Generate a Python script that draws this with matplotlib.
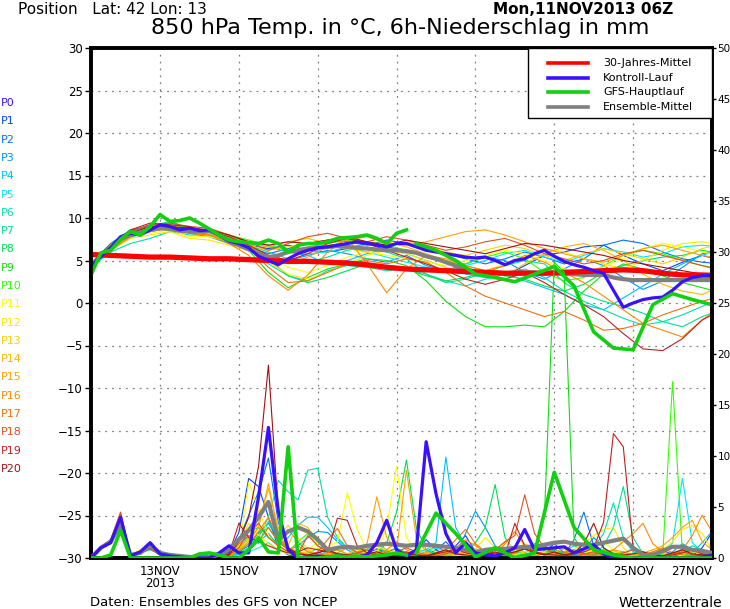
import numpy as np
import matplotlib
matplotlib.use("Agg")
import matplotlib.pyplot as plt
from matplotlib.patches import Rectangle
from matplotlib.lines import Line2D

# time axis: hours since Mon 11NOV2013 06Z
hours_6h = np.arange(64) * 6
hours_12h = np.arange(33) * 12
hours_gfs_hr = np.arange(33) * 6            # 6h steps up to 19NOV 06Z
hours_gfs_lr = 198 + np.arange(16) * 12     # 12h steps 19NOV 12Z .. 27NOV 00Z

date_ticks = [42, 90, 138, 186, 234, 282, 330, 378]
date_labels = ["13NOV\n2013", "15NOV", "17NOV", "19NOV", "21NOV", "23NOV", "25NOV", "27NOV"]

member_names = ["P%d" % i for i in range(21)]
member_colors = ["#3a10ff", "#0048ff", "#0070ff", "#0094ff", "#00c0ff", "#00e8ff",
                 "#00e0b0", "#00e090", "#00e050", "#10e010", "#30ff00", "#ffff00",
                 "#ffe800", "#ffd000", "#ffb800", "#ffa000", "#ff8800", "#f07010",
                 "#e05020", "#c02020", "#a01010"]

# 30-year mean temperature (12h)
clim_temp = [5.7, 5.6, 5.5, 5.4, 5.4, 5.3, 5.2, 5.2, 5.1, 5.0, 4.9,
             4.9, 4.8, 4.7, 4.5, 4.2, 4.0, 3.9, 3.8, 3.7, 3.6, 3.5,
             3.5, 3.5, 3.6, 3.7, 3.8, 3.9, 3.8, 3.5, 3.3, 3.3, 3.2]

# control run (P0), 6h
ctrl_temp = [4.3, 5.5, 6.5, 7.8, 8.2, 8.0, 8.6, 9.2,
             9.0, 8.6, 8.8, 8.5, 8.6, 8.0, 7.3, 7.0,
             6.5, 5.5, 5.0, 4.5, 5.2, 5.8, 6.2, 6.5,
             6.6, 6.8, 7.0, 7.2, 7.0, 6.8, 6.6, 7.0,
             7.0, 6.6, 6.2, 6.0, 5.8, 5.6, 5.4, 5.3,
             5.4, 5.0, 4.5, 5.0, 5.2, 5.8, 6.2, 5.5,
             4.9, 4.5, 4.2, 3.8, 3.5, 1.5, -0.5, 0.0,
             0.4, 0.6, 0.7, 1.5, 2.5, 3.0, 3.2, 3.3]
ctrl_prec = [0, 1.0, 1.5, 4.0, 0.2, 0.6, 1.5, 0.4,
             0.2, 0.1, 0, 0, 0, 0.5, 1.2, 0.5,
             0.5, 6.0, 12.8, 4.6, 0.8, 0, 0.1, 0.2,
             0.1, 0.2, 0.1, 0.1, 0.3, 1.5, 3.7, 0.8,
             0.2, 0.8, 11.4, 6.3, 2.4, 0.5, 1.5, 0.5,
             0.3, 0.2, 0.5, 1.0, 2.8, 0.8, 0.9, 1.0,
             1.1, 0.5, 0.9, 1.3, 0.4, 0, 0, 0,
             0, 0, 0, 0, 0, 0, 0.1, 0.3]

# GFS main run: high resolution part (6h) and low resolution part (12h)
gfs_temp_hr = [3.3, 5.9, 6.2, 7.5, 8.4, 8.0, 9.0, 10.4,
               9.6, 9.7, 10.0, 9.4, 8.7, 8.0, 7.4, 7.2,
               7.1, 7.0, 7.4, 7.0, 6.0, 6.8, 7.0, 7.0,
               7.2, 7.6, 7.7, 7.8, 8.0, 7.6, 7.0, 8.2, 8.6]
gfs_prec_hr = [0, 0, 0.3, 2.7, 0, 0, 0, 0,
               0, 0, 0, 0.4, 0.5, 0.3, 0, 0,
               0.8, 2.0, 0.6, 0.5, 10.9, 0, 0, 0,
               0.1, 0.2, 0.1, 0.2, 0.1, 0.2, 0.3, 0.5, 0.3]
gfs_temp_lr = [7.0, 6.2, 5.0, 3.4, 3.0, 2.5, 3.4, 4.3,
               2.0, -3.4, -5.3, -5.5, -0.2, 1.1, 0.4, -0.2]
gfs_prec_lr = [0.5, 4.4, 2.4, 0.1, 1.0, 0.0, 0.5, 8.4,
               3.0, 0.8, 0.3, 0.0, 0.0, 0.0, 0.0, 0.0]

# ensemble mean, 6h
mean_temp = [4.5, 5.5, 6.5, 7.5, 8.0, 8.3, 8.6, 8.8,
             8.7, 8.5, 8.4, 8.4, 8.5, 8.0, 7.2, 6.8,
             6.3, 5.8, 5.4, 5.6, 6.0, 6.2, 6.4, 6.5,
             6.6, 6.7, 6.6, 6.5, 6.4, 6.3, 6.2, 6.2,
             6.1, 5.9, 5.5, 5.2, 4.8, 4.4, 4.0, 3.7,
             3.6, 3.6, 3.5, 3.6, 3.6, 3.6, 3.5, 3.5,
             3.4, 3.4, 3.3, 3.3, 3.3, 3.0, 2.8, 2.7,
             2.7, 2.7, 2.7, 2.7, 2.7, 2.7, 2.7, 2.7]
mean_prec = [0, 1.0, 1.6, 3.3, 0.3, 0.5, 1.2, 0.5,
             0.3, 0.2, 0.1, 0.1, 0.1, 0.3, 0.9, 1.8,
             2.7, 4.0, 5.5, 1.8, 2.6, 3.0, 2.6, 1.8,
             0.8, 1.0, 1.1, 1.0, 1.2, 1.3, 1.4, 1.3,
             1.2, 1.3, 1.3, 1.2, 1.1, 1.0, 0.8, 0.5,
             0.8, 0.9, 0.9, 1.0, 1.1, 1.1, 1.3, 1.5,
             1.6, 1.4, 1.3, 1.3, 1.5, 1.7, 1.9, 1.0,
             0.3, 0.3, 0.7, 1.1, 1.1, 0.8, 0.7, 0.5]

# perturbed members P1..P20: temperature (12h)
member_temp = [
    [4.4, 6.6, 8.4, 9.2, 9.0, 8.7, 8.2, 7.4, 6.8, 6.4, 6.8,
     6.2, 6.0, 6.4, 7.0, 6.6, 6.2, 5.6, 4.8, 4.0, 3.6, 3.2,
     4.4, 5.6, 6.0, 6.6, 6.8, 5.6, 4.6, 3.8, 4.8, 5.6, 5.0],
    [4.7, 7.0, 8.6, 9.0, 8.8, 8.8, 8.0, 7.2, 6.6, 5.8, 6.4,
     7.0, 7.4, 7.2, 6.8, 7.4, 7.0, 6.4, 5.8, 5.2, 4.6, 5.2,
     6.0, 5.4, 4.6, 5.2, 6.8, 7.4, 7.0, 6.0, 5.2, 4.8, 4.6],
    [4.5, 6.6, 8.0, 8.6, 9.2, 8.2, 7.8, 7.0, 6.4, 5.6, 5.0,
     5.6, 6.2, 5.8, 5.2, 4.8, 5.6, 4.4, 3.8, 4.6, 5.4, 5.0,
     3.6, 2.8, 4.0, 5.2, 4.4, 3.0, 1.6, 2.6, 4.2, 5.8, 6.2],
    [4.6, 6.4, 7.8, 8.4, 9.0, 8.4, 8.2, 7.6, 7.0, 6.6, 6.0,
     5.6, 4.6, 5.0, 5.8, 6.4, 5.8, 5.0, 4.2, 3.4, 3.0, 3.6,
     2.6, 1.8, 1.0, -0.2, -0.8, 0.6, 2.0, 3.4, 4.6, 5.6, 6.4],
    [4.3, 6.2, 7.6, 8.8, 9.4, 8.8, 8.6, 7.8, 7.2, 6.8, 6.2,
     5.8, 6.0, 6.6, 6.0, 5.4, 4.8, 4.2, 3.6, 4.4, 5.0, 5.8,
     6.2, 5.4, 4.8, 5.6, 6.4, 6.0, 5.4, 5.8, 6.6, 6.8, 6.6],
    [4.2, 6.0, 7.0, 7.6, 8.4, 8.0, 8.0, 7.4, 6.8, 4.6, 3.2,
     2.6, 3.8, 4.4, 4.2, 3.8, 4.0, 3.4, 2.6, 2.0, 2.8, 3.4,
     4.0, 3.0, 1.4, 0.2, -0.8, -1.8, -2.6, -2.2, -1.4, -0.4, 0.6],
    [4.5, 6.4, 8.0, 8.4, 8.8, 8.4, 8.4, 7.6, 6.8, 6.0, 5.2,
     4.8, 5.4, 6.2, 6.6, 6.0, 5.2, 3.4, 2.4, 2.8, 3.6, 4.4,
     5.0, 4.6, 2.4, 1.0, 0.2, -0.4, -1.2, -2.2, -2.8, -1.6, -0.8],
    [4.4, 6.6, 8.2, 9.0, 9.6, 8.8, 8.4, 7.8, 7.2, 5.2, 3.2,
     2.4, 3.0, 3.8, 4.6, 4.4, 4.0, 3.2, 2.6, 3.0, 3.6, 3.2,
     2.8, 2.0, 1.4, 2.2, 3.6, 4.4, 5.0, 5.4, 5.6, 6.2, 5.8],
    [4.6, 6.8, 8.4, 8.8, 9.0, 8.6, 8.0, 7.2, 6.2, 3.6, 1.8,
     3.0, 4.0, 4.6, 5.2, 5.0, 4.4, 2.6, 0.2, -1.6, -2.8, -2.8,
     -2.6, -2.8, -1.0, 1.4, 3.4, 4.6, 4.0, 3.2, 2.4, 1.8, 1.2],
    [4.5, 6.6, 8.2, 9.0, 9.2, 8.8, 8.6, 8.0, 7.4, 6.8, 6.2,
     6.6, 7.0, 7.4, 7.2, 6.8, 6.2, 5.6, 4.8, 4.6, 5.4, 6.0,
     5.2, 3.6, 2.6, 3.0, 4.4, 5.6, 6.2, 5.8, 5.0, 4.4, 4.0],
    [4.5, 6.4, 8.0, 8.2, 8.6, 7.8, 7.8, 7.2, 6.4, 5.4, 4.2,
     3.6, 4.4, 5.4, 6.0, 5.6, 5.2, 4.8, 4.4, 5.0, 5.6, 6.2,
     5.8, 5.0, 4.0, 3.6, 4.2, 5.2, 6.4, 7.0, 6.6, 6.0, 5.6],
    [4.4, 6.2, 7.6, 8.0, 8.4, 7.6, 7.4, 6.8, 6.2, 4.8, 3.4,
     2.8, 3.6, 4.6, 5.6, 6.2, 5.8, 5.0, 4.2, 3.6, 3.8, 4.6,
     5.4, 6.4, 6.0, 5.2, 4.6, 4.0, 5.0, 6.2, 7.0, 7.2, 6.8],
    [4.6, 6.8, 8.2, 8.8, 9.0, 8.6, 8.2, 7.4, 6.8, 6.2, 6.6,
     7.0, 6.8, 6.4, 6.0, 6.8, 7.2, 6.6, 6.0, 5.6, 6.2, 6.8,
     6.4, 5.6, 5.0, 5.8, 6.4, 5.8, 5.2, 4.6, 5.4, 6.4, 7.0],
    [4.5, 6.6, 8.0, 8.6, 9.2, 8.4, 8.6, 7.8, 7.0, 6.6, 7.2,
     7.6, 7.0, 6.6, 6.8, 7.2, 6.6, 5.8, 5.0, 4.4, 3.8, 3.2,
     4.6, 5.8, 6.6, 7.0, 6.2, 5.0, 3.4, 2.2, 1.4, 1.0, 2.0],
    [4.4, 6.4, 7.8, 8.6, 9.0, 8.2, 8.0, 7.4, 6.6, 5.6, 4.6,
     5.4, 6.6, 7.4, 7.8, 7.0, 6.8, 7.2, 7.8, 8.4, 8.6, 8.0,
     7.2, 6.4, 5.8, 5.2, 4.8, 5.6, 6.4, 6.8, 6.2, 5.6, 5.2],
    [4.3, 6.2, 7.8, 8.4, 8.8, 8.2, 8.0, 7.0, 5.6, 3.2, 1.5,
     3.3, 6.0, 7.6, 4.6, 1.2, 4.0, 5.6, 5.2, 4.4, 3.8, 4.4,
     5.6, 4.8, 3.6, 2.4, 0.8, -0.8, -2.4, -3.2, -4.0, -2.0, -0.4],
    [4.5, 6.6, 8.2, 8.6, 9.0, 8.6, 8.4, 7.6, 6.4, 4.2, 2.4,
     2.6, 3.6, 4.6, 5.0, 4.6, 5.2, 4.8, 3.6, 2.0, 0.8, 0.0,
     -0.8, -1.6, -1.0, -2.0, -3.2, -3.0, -2.4, -1.4, -0.6, 0.2, 0.8],
    [4.6, 6.8, 8.4, 9.2, 9.4, 9.0, 8.8, 8.0, 7.2, 6.2, 7.0,
     7.8, 8.2, 7.6, 7.2, 7.8, 7.4, 6.8, 6.2, 6.6, 7.2, 7.6,
     6.8, 5.8, 5.2, 4.6, 5.0, 5.8, 6.2, 5.6, 5.0, 4.4, 3.8],
    [4.5, 6.6, 8.6, 9.4, 9.2, 9.0, 8.4, 7.8, 6.8, 5.6, 5.0,
     5.8, 7.0, 7.6, 7.0, 6.2, 5.4, 4.6, 3.8, 2.8, 2.2, 2.8,
     3.6, 2.4, 1.0, -0.2, -1.6, -3.6, -5.4, -5.6, -4.2, -2.0, -0.8],
    [4.4, 6.4, 8.2, 9.0, 9.0, 8.8, 8.6, 8.0, 7.2, 6.8, 7.2,
     7.0, 7.4, 7.8, 7.2, 6.8, 7.4, 7.0, 6.6, 6.2, 5.8, 6.4,
     7.0, 6.8, 6.4, 6.0, 5.6, 5.0, 4.6, 4.2, 3.8, 3.4, 3.0],
]

# perturbed members P1..P20: 6h precipitation
member_prec = [
    [0, 1.1, 1.5, 4.2, 0.3, 0.5, 1.0, 0.3, 0.2, 0.2, 0.1, 0, 0, 0, 0.5, 2.5,
     7.8, 7.0, 4.0, 1.0, 0.3, 0.1, 0.2, 0.5, 0.8, 0.4, 0.2, 0.1, 0.4, 0.9, 0.5, 0.2,
     0.3, 0.6, 1.8, 0.8, 0.3, 1.2, 2.2, 0.6, 0.2, 0.1, 0.5, 0.9, 0.3, 0.2, 0.6, 1.4,
     0.5, 0.2, 0.1, 0.3, 0.8, 0.3, 0.1, 0, 0.2, 0.4, 0.8, 0.3, 0.1, 0.2, 1.0, 2.5],
    [0, 1.0, 1.6, 4.0, 0.2, 0.6, 1.3, 0.4, 0.3, 0.2, 0, 0, 0, 0.1, 0.6, 1.8,
     4.2, 6.5, 9.8, 3.5, 1.0, 0.4, 0.2, 0.3, 0.6, 0.3, 0.2, 0.4, 0.2, 0.1, 0.3, 0.6,
     0.2, 0.1, 0.3, 0.8, 1.6, 0.5, 0.2, 0.1, 0.3, 0.8, 0.4, 0.2, 0.1, 0.5, 1.2, 0.6,
     0.3, 1.8, 4.5, 1.2, 0.3, 0.1, 0, 0.2, 0.5, 0.3, 0.1, 0.2, 0.6, 0.4, 0.2, 0.1],
    [0, 0.9, 1.5, 3.6, 0.2, 0.6, 1.1, 0.5, 0.3, 0.2, 0.1, 0, 0, 0, 0.2, 0.6,
     1.2, 2.5, 3.4, 1.8, 0.8, 1.2, 2.0, 2.6, 2.5, 1.6, 0.8, 0.3, 0.2, 0.5, 0.8, 0.4,
     0.2, 0.3, 0.6, 1.2, 0.6, 0.3, 2.4, 4.6, 3.0, 1.2, 0.4, 0.2, 0.1, 0.3, 0.6, 0.9,
     0.4, 0.2, 0.8, 2.0, 1.0, 0.3, 0.1, 0, 0.1, 0.3, 0.2, 0.6, 1.4, 0.8, 0.3, 0.2],
    [0, 1.0, 1.8, 4.3, 0.3, 0.5, 0.9, 0.3, 0.2, 0.1, 0, 0, 0, 0, 0.1, 0.4,
     0.8, 1.6, 2.4, 1.2, 2.0, 3.2, 4.0, 4.0, 3.0, 1.8, 1.0, 0.6, 0.9, 1.4, 0.8, 0.4,
     0.3, 0.6, 0.8, 1.5, 9.9, 3.0, 1.2, 0.6, 0.8, 0.4, 0.2, 0.5, 1.2, 0.6, 0.3, 0.2,
     0.4, 0.8, 0.3, 0.2, 0.1, 0, 0.2, 0.5, 0.3, 0.1, 0.2, 0.4, 0.9, 0.5, 1.5, 2.6],
    [0, 1.1, 1.7, 4.0, 0.2, 0.5, 1.0, 0.6, 0.4, 0.3, 0.1, 0, 0, 0, 0.1, 0.3,
     0.6, 1.0, 1.5, 0.8, 0.4, 0.2, 0.5, 0.9, 0.5, 0.3, 0.2, 0.1, 0.3, 0.6, 0.4, 0.2,
     0.1, 0.2, 0.5, 1.0, 0.6, 0.3, 0.2, 0.4, 0.8, 0.4, 0.2, 0.3, 0.6, 1.0, 0.5, 0.2,
     0.1, 0.3, 0.7, 0.4, 0.2, 0.1, 0.4, 1.0, 0.6, 0.3, 0.4, 1.5, 7.8, 1.5, 0.6, 0.3],
    [0, 0.9, 1.4, 3.4, 0.2, 0.5, 0.8, 0.4, 0.3, 0.2, 0.1, 0, 0, 0, 0.2, 0.5,
     1.0, 2.0, 4.0, 7.6, 6.5, 5.7, 8.6, 8.8, 4.0, 2.0, 1.0, 0.5, 0.3, 0.2, 0.6, 1.0,
     0.5, 0.3, 0.2, 0.4, 0.8, 0.4, 0.2, 0.1, 0.3, 0.6, 0.4, 0.2, 0.5, 1.0, 0.8, 0.4,
     0.6, 1.2, 0.8, 1.0, 2.4, 5.4, 2.0, 0.6, 0.3, 0.2, 0.1, 0.3, 0.6, 0.4, 0.8, 0.5],
    [0, 1.0, 1.6, 3.8, 0.3, 0.6, 1.0, 0.5, 0.2, 0.1, 0, 0, 0, 0, 0.3, 0.9,
     2.2, 1.4, 3.6, 2.0, 1.0, 0.6, 0.3, 0.2, 0.5, 0.8, 0.4, 0.2, 0.1, 0.3, 0.5, 0.3,
     0.2, 0.1, 0.4, 0.6, 0.3, 0.2, 0.5, 0.9, 0.6, 0.3, 0.2, 0.4, 0.9, 1.4, 0.7, 0.3,
     0.5, 0.8, 0.4, 0.3, 1.2, 3.0, 7.0, 2.0, 0.4, 0.2, 0.1, 0.3, 0.6, 1.2, 0.8, 0.3],
    [0, 1.0, 1.5, 3.9, 0.2, 0.6, 1.2, 0.4, 0.3, 0.1, 0, 0, 0, 0, 0.3, 1.2,
     2.6, 3.0, 2.2, 1.4, 2.8, 1.6, 0.6, 0.3, 0.4, 0.2, 0.3, 0.6, 0.9, 0.4, 1.5, 4.5,
     9.6, 3.0, 0.8, 0.4, 0.2, 0.3, 0.6, 1.5, 3.0, 7.2, 2.0, 0.6, 0.3, 0.2, 0.4, 0.8,
     0.5, 0.3, 0.2, 0.4, 0.8, 0.5, 0.3, 0.1, 0.2, 0.4, 0.3, 0.2, 0.5, 0.9, 0.4, 0.2],
    [0, 1.0, 1.6, 3.7, 0.2, 0.5, 0.9, 0.4, 0.2, 0.1, 0, 0, 0, 0, 0.2, 0.6,
     1.4, 2.4, 3.0, 1.6, 0.8, 0.4, 0.3, 0.2, 0.3, 0.5, 0.3, 0.2, 0.4, 0.6, 0.3, 0.2,
     0.4, 0.3, 0.2, 0.5, 0.3, 0.2, 0.4, 0.6, 0.3, 0.5, 0.4, 0.6, 1.0, 0.8, 4.0, 29.0,
     28.0, 2.0, 0.5, 0.3, 0.2, 0.4, 0.6, 0.3, 0.2, 0.1, 0.3, 0.5, 0.4, 0.2, 0.3, 0.2],
    [0, 1.1, 1.7, 4.1, 0.3, 0.6, 1.1, 0.4, 0.2, 0.1, 0, 0, 0, 0, 0.3, 1.0,
     1.8, 3.0, 2.0, 1.2, 0.6, 1.6, 2.4, 1.2, 0.6, 0.3, 0.2, 0.4, 0.8, 1.2, 0.6, 0.3,
     0.5, 0.3, 0.2, 0.3, 0.5, 0.3, 0.2, 0.4, 0.2, 0.4, 0.8, 0.5, 0.3, 0.6, 1.0, 0.6,
     0.4, 0.2, 0.3, 0.6, 0.8, 0.4, 0.2, 0.1, 0.3, 0.5, 0.2, 17.3, 0.4, 0.2, 0.1, 0.3],
    [0, 1.0, 1.6, 3.8, 0.3, 0.8, 1.6, 0.6, 0.3, 0.2, 0.1, 0, 0, 0, 0.2, 0.8,
     7.4, 4.8, 2.2, 1.0, 0.5, 0.3, 0.8, 1.6, 1.0, 1.6, 6.4, 2.8, 0.8, 0.5, 3.0, 9.0,
     2.0, 0.6, 0.3, 0.2, 0.5, 0.9, 0.4, 0.3, 0.3, 0.6, 1.6, 0.9, 0.4, 0.3, 0.6, 1.2,
     0.8, 0.5, 0.4, 0.9, 1.6, 0.8, 0.3, 0.2, 0.4, 0.2, 0.1, 0.3, 0.6, 0.4, 0.2, 0.1],
    [0, 0.9, 1.5, 3.6, 0.2, 0.7, 1.4, 0.5, 0.3, 0.1, 0, 0, 0, 0, 0.2, 1.2,
     3.4, 2.2, 1.4, 0.8, 0.4, 0.3, 0.6, 1.0, 0.5, 0.3, 0.2, 0.3, 0.6, 1.2, 0.8, 0.4,
     0.3, 0.6, 1.2, 0.6, 0.3, 0.2, 0.4, 0.9, 2.0, 1.0, 0.4, 0.3, 0.6, 0.9, 0.5, 0.3,
     0.4, 0.8, 1.4, 2.2, 2.8, 3.0, 1.0, 0.3, 0.2, 0.4, 0.8, 1.6, 2.8, 3.2, 2.4, 0.8],
    [0, 1.0, 1.6, 3.9, 0.2, 0.6, 1.2, 0.4, 0.2, 0.1, 0, 0, 0, 0, 0.3, 0.9,
     1.8, 4.6, 5.2, 2.0, 3.2, 2.0, 0.8, 0.4, 0.3, 0.2, 0.4, 0.9, 0.5, 0.3, 0.2, 0.4,
     0.6, 0.3, 0.2, 0.4, 0.8, 0.5, 0.3, 0.2, 0.4, 0.2, 0.3, 0.8, 1.4, 0.7, 0.3, 0.2,
     0.3, 0.5, 0.9, 0.6, 0.4, 0.2, 0.1, 0.3, 0.5, 0.3, 0.2, 0.4, 0.3, 0.6, 0.4, 0.2],
    [0, 1.1, 1.8, 4.4, 0.3, 0.5, 1.0, 0.3, 0.2, 0.1, 0, 0, 0, 0, 0.4, 1.0,
     2.0, 3.4, 6.8, 3.0, 1.2, 3.4, 3.0, 1.5, 0.8, 0.4, 0.3, 0.6, 1.2, 0.7, 0.3, 0.2,
     0.4, 0.8, 0.5, 0.3, 0.2, 0.4, 0.6, 0.3, 0.2, 0.3, 0.6, 1.0, 0.5, 0.3, 0.4, 0.6,
     0.9, 0.5, 0.3, 0.2, 0.4, 0.7, 0.4, 0.2, 0.3, 0.6, 0.4, 0.3, 0.5, 0.8, 0.6, 0.3],
    [0, 1.0, 1.7, 4.0, 0.2, 0.6, 1.1, 0.5, 0.3, 0.2, 0.1, 0, 0, 0, 0.3, 0.8,
     1.6, 3.0, 7.3, 2.4, 1.0, 0.6, 0.4, 0.3, 0.5, 0.8, 0.4, 0.3, 1.4, 6.0, 2.0, 0.8,
     8.6, 2.0, 0.6, 0.3, 0.2, 0.4, 0.6, 0.3, 0.4, 0.2, 0.3, 0.6, 0.9, 0.5, 0.3, 0.2,
     0.4, 0.6, 0.3, 0.2, 0.5, 0.8, 0.6, 0.3, 0.5, 0.8, 1.2, 2.0, 3.0, 3.7, 1.6, 0.8],
    [0, 1.1, 1.6, 4.2, 0.3, 0.7, 1.3, 0.5, 0.3, 0.2, 0, 0, 0, 0, 0.2, 0.7,
     1.4, 2.6, 4.0, 2.0, 0.8, 1.2, 0.6, 0.4, 0.3, 0.5, 1.0, 0.6, 0.4, 0.3, 0.8, 1.6,
     0.8, 0.4, 0.3, 0.2, 0.5, 1.0, 1.8, 1.2, 0.6, 0.3, 1.4, 2.6, 1.2, 0.5, 0.3, 0.2,
     0.4, 0.6, 0.3, 0.2, 0.5, 0.8, 1.6, 2.4, 3.4, 1.4, 0.6, 0.3, 0.8, 2.2, 4.2, 2.6],
    [0, 1.0, 1.7, 4.3, 0.3, 0.6, 1.0, 0.4, 0.2, 0.1, 0, 0, 0, 0.1, 0.4, 1.4,
     2.2, 1.6, 3.0, 1.6, 0.8, 0.5, 0.3, 0.6, 1.8, 2.9, 1.2, 0.5, 0.3, 0.2, 0.6, 0.9,
     0.5, 0.3, 0.2, 0.4, 0.8, 1.8, 2.8, 1.4, 0.6, 0.3, 0.2, 0.5, 0.9, 0.6, 0.4, 0.3,
     0.5, 0.8, 0.4, 0.3, 0.6, 0.4, 0.2, 0.1, 0.3, 0.6, 1.0, 0.5, 0.3, 0.2, 0.4, 0.6],
    [0, 1.1, 1.8, 4.5, 0.2, 0.5, 0.9, 0.3, 0.2, 0.1, 0, 0, 0, 0, 0.3, 1.0,
     2.6, 3.4, 2.0, 1.2, 0.6, 0.4, 2.2, 1.2, 0.6, 0.4, 0.3, 0.5, 0.8, 0.4, 0.3, 0.6,
     1.0, 0.6, 0.3, 0.2, 0.4, 0.8, 1.4, 0.7, 0.4, 0.8, 1.6, 2.2, 6.2, 2.4, 1.0, 0.5,
     0.3, 0.2, 0.4, 0.6, 0.3, 0.2, 0.5, 0.8, 0.6, 0.3, 0.2, 0.4, 0.6, 0.3, 0.2, 0.1],
    [0, 1.0, 1.6, 4.0, 0.3, 0.6, 1.2, 0.5, 0.3, 0.2, 0, 0, 0, 0, 0.4, 3.4,
     2.0, 1.6, 1.2, 0.8, 0.5, 0.6, 1.0, 0.8, 0.6, 3.9, 3.7, 1.2, 0.5, 0.3, 0.2, 0.4,
     0.6, 0.3, 0.2, 0.4, 0.6, 0.9, 0.5, 0.3, 0.4, 0.6, 0.3, 3.4, 1.2, 0.6, 0.4, 0.3,
     0.2, 0.4, 0.6, 1.0, 3.5, 12.2, 10.9, 1.0, 0.4, 0.2, 0.1, 0.3, 0.5, 0.8, 0.4, 0.2],
    [0, 1.0, 1.5, 3.9, 0.2, 0.6, 1.0, 0.4, 0.2, 0.1, 0, 0, 0, 0, 0.3, 1.6,
     4.0, 9.0, 18.9, 4.5, 1.0, 0.4, 0.3, 0.5, 0.8, 0.4, 0.3, 0.2, 0.4, 0.6, 0.3, 0.2,
     0.4, 0.3, 0.2, 0.5, 0.8, 0.4, 0.3, 0.2, 0.3, 0.5, 0.4, 0.6, 0.9, 0.5, 0.3, 0.6,
     0.3, 0.5, 1.4, 3.4, 1.0, 0.4, 0.3, 0.4, 0.6, 0.3, 0.2, 0.5, 0.8, 0.4, 0.3, 0.2],
]

legend_labels = ["30-Jahres-Mittel", "Kontroll-Lauf", "GFS-Hauptlauf", "Ensemble-Mittel"]
c_clim, c_ctrl, c_gfs, c_mean = "#ff0000", "#3a10ff", "#10d010", "#808080"

W, H = 730, 609
fig = plt.figure(figsize=(W / 100, H / 100), dpi=100)
x0, x1, y0, y1 = 91, 712, 48, 558
ax = fig.add_axes([x0 / W, 1 - y1 / H, (x1 - x0) / W, (y1 - y0) / H])
ax2 = ax.twinx()

# temperature (left axis)
for temps, col in zip(member_temp, member_colors[1:]):
    ax.plot(hours_12h, temps, color=col, lw=0.8, zorder=2)
ax.plot(hours_6h, mean_temp, color=c_mean, lw=3.0, zorder=3)
ax.plot(hours_12h, clim_temp, color=c_clim, lw=3.8, zorder=4)
ax.plot(hours_6h, ctrl_temp, color=c_ctrl, lw=2.3, zorder=5)
ax.plot(hours_gfs_hr, gfs_temp_hr, color=c_gfs, lw=2.6, zorder=6)
ax.plot(hours_gfs_lr, gfs_temp_lr, color=c_gfs, lw=2.6, zorder=6)

# precipitation (right axis)
for prec, col in zip(member_prec, member_colors[1:]):
    ax2.plot(hours_6h, prec, color=col, lw=0.8, zorder=2)
ax2.plot(hours_6h, mean_prec, color=c_mean, lw=3.0, zorder=3)
ax2.plot(hours_6h, ctrl_prec, color=c_ctrl, lw=2.3, zorder=5)
ax2.plot(hours_gfs_hr, gfs_prec_hr, color=c_gfs, lw=2.6, zorder=6)
ax2.plot(hours_gfs_lr, gfs_prec_lr, color=c_gfs, lw=2.6, zorder=6)

ax.set_xlim(0, 378)
ax.set_ylim(-30, 30)
ax2.set_ylim(0, 50)
ax.set_yticks(np.arange(-30, 31, 5))
ax2.set_yticks(np.arange(0, 51, 5))
ax.set_xticks(date_ticks)
ax.set_xticklabels(date_labels, fontsize=8.5, linespacing=0.95)
ax.get_xticklabels()[-1].set_horizontalalignment("right")
ax.tick_params(axis="x", length=0, pad=5)
ax.tick_params(axis="y", length=4, width=1, pad=2, labelsize=8.5)
ax2.tick_params(axis="y", length=3, width=1, pad=1, labelsize=7.5)

for a in (ax, ax2):
    for s in a.spines.values():
        s.set_linewidth(2.6)
        s.set_color("black")

grid_kw = dict(color="#808080", lw=0.9, ls=(0, (1.5, 4)), zorder=1)
for yv in range(-25, 30, 5):
    ax.axhline(yv, **grid_kw)
for xv in date_ticks[:-1]:
    ax.axvline(xv, **grid_kw)

# legend box in the upper right corner
lx0, ly0 = (528 - x0) / (x1 - x0), (y1 - 118) / (y1 - y0)
ax2.add_patch(Rectangle((lx0, ly0), 1 - lx0, 1 - ly0, transform=ax2.transAxes,
                        facecolor="white", edgecolor="black", lw=1, zorder=10))
for k, (lab, col) in enumerate(zip(legend_labels, [c_clim, c_ctrl, c_gfs, c_mean])):
    yy = (y1 - (63 + 14.7 * k)) / (y1 - y0)
    ax2.add_line(Line2D([(548 - x0) / (x1 - x0), (588 - x0) / (x1 - x0)], [yy, yy],
                        transform=ax2.transAxes, color=col, lw=2.6, zorder=11))
    ax2.text((603 - x0) / (x1 - x0), yy, lab, transform=ax2.transAxes,
             fontsize=8, va="center", ha="left", zorder=12)

# member labels on the left
for n, (name, col) in enumerate(zip(member_names, member_colors)):
    fig.text(1 / W, 1 - (103 + 18.3 * n) / H, name, color=col, fontsize=8,
             va="center", ha="left")

fig.text(18 / W, 1 - 10 / H, "Position   Lat: 42 Lon: 13", fontsize=11, va="center")
fig.text(673 / W, 1 - 10 / H, "Mon,11NOV2013 06Z", fontsize=11, fontweight="bold",
         va="center", ha="right")
fig.text(400 / W, 1 - 28 / H, "850 hPa Temp. in °C, 6h-Niederschlag in mm",
         fontsize=16, va="center", ha="center")
fig.text(90 / W, 1 - 603 / H, "Daten: Ensembles des GFS von NCEP", fontsize=9.5,
         va="center", ha="left")
fig.text(722 / W, 1 - 603 / H, "Wetterzentrale", fontsize=10, va="center", ha="right")

fig.savefig("out.png", dpi=100)
